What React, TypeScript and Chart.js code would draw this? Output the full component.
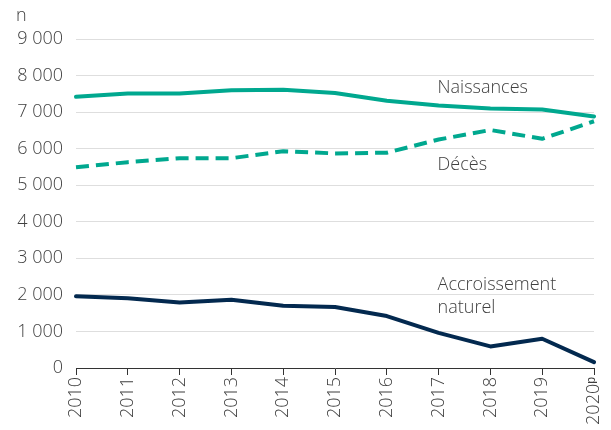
import React, { useEffect, useRef } from "react";
import { Chart, registerables } from "chart.js";

Chart.register(...registerables);

const years = ["2010", "2011", "2012", "2013", "2014", "2015", "2016", "2017", "2018", "2019", "2020ᵖ"];
const naissances = [7420, 7510, 7510, 7600, 7610, 7520, 7310, 7180, 7100, 7070, 6880];
const deces = [5490, 5630, 5740, 5740, 5930, 5870, 5890, 6250, 6510, 6270, 6750];
const accroissement = [1960, 1910, 1790, 1870, 1700, 1670, 1420, 960, 590, 800, 160];
const yTicks = { min: 0, max: 9000, step: 1000 };

const TEAL = "#00a88f";
const NAVY = "#03294f";
const TEXT = "#404040";
const FONT_FAMILY = '"Open Sans", "DejaVu Sans", sans-serif';

const labelsPlugin = {
  id: "seriesLabels",
  afterDatasetsDraw(chart: any) {
    const { ctx, scales } = chart;
    const x = scales.x.getPixelForValue(7) - 1;
    const y = scales.y;
    ctx.save();
    ctx.fillStyle = TEXT;
    ctx.font = `300 18px ${FONT_FAMILY}`;
    ctx.textAlign = "left";
    ctx.textBaseline = "middle";
    ctx.fillText("Naissances", x, y.getPixelForValue(7660));
    ctx.fillText("Décès", x, y.getPixelForValue(5560));
    ctx.fillText("Accroissement", x, y.getPixelForValue(2270));
    ctx.fillText("naturel", x, y.getPixelForValue(1640));
    ctx.fillText("n", 16, 16);
    ctx.restore();
  },
};

export default function App() {
  const ref = useRef<HTMLCanvasElement | null>(null);
  useEffect(() => {
    document.body.style.margin = "0";
    const canvas = ref.current!;
    const chart = new Chart(canvas, {
      type: "line",
      data: {
        labels: years,
        datasets: [
          {
            label: "Naissances",
            data: naissances,
            borderColor: TEAL,
            borderWidth: 4,
            pointRadius: 0,
            tension: 0,
            borderJoinStyle: "round",
            borderCapStyle: "round",
          },
          {
            label: "Décès",
            data: deces,
            borderColor: TEAL,
            borderWidth: 4,
            borderDash: [13, 7],
            pointRadius: 0,
            tension: 0,
            borderJoinStyle: "round",
          },
          {
            label: "Accroissement naturel",
            data: accroissement,
            borderColor: NAVY,
            borderWidth: 4,
            pointRadius: 0,
            tension: 0,
            borderJoinStyle: "round",
            borderCapStyle: "round",
          },
        ],
      },
      options: {
        animation: false,
        responsive: false,
        devicePixelRatio: 1,
        layout: { padding: { top: 39, right: 17, left: 0, bottom: 0 } },
        plugins: {
          legend: { display: false },
          tooltip: { enabled: false },
        },
        scales: {
          x: {
            offset: false,
            grid: {
              drawOnChartArea: false,
              drawTicks: true,
              tickLength: 7,
              color: "#333",
            },
            border: { color: "#333", width: 1 },
            ticks: {
              color: TEXT,
              font: { family: FONT_FAMILY, size: 18, weight: 300 },
              maxRotation: 90,
              minRotation: 90,
              padding: 2,
              autoSkip: false,
            },
            afterFit(scale: any) {
              scale.height = 62;
              scale.paddingRight = 0;
              scale.paddingLeft = 0;
            },
          },
          y: {
            min: yTicks.min,
            max: yTicks.max,
            grid: { color: "#dedede", drawTicks: false, lineWidth: 1 },
            border: { display: false },
            ticks: {
              stepSize: yTicks.step,
              color: TEXT,
              padding: 13,
              font: { family: FONT_FAMILY, size: 18, weight: 300 },
              callback: (v: any) => {
                const n = Number(v);
                return n >= 1000 ? `${Math.floor(n / 1000)} ${String(n % 1000).padStart(3, "0")}` : String(n);
              },
            },
            afterFit(scale: any) {
              scale.width = 76;
            },
          },
        },
      },
      plugins: [labelsPlugin],
    });
    return () => chart.destroy();
  }, []);
  return (
    <div style={{ width: 611, height: 430, background: "#fff" }}>
      <canvas ref={ref} width={611} height={430} />
    </div>
  );
}
